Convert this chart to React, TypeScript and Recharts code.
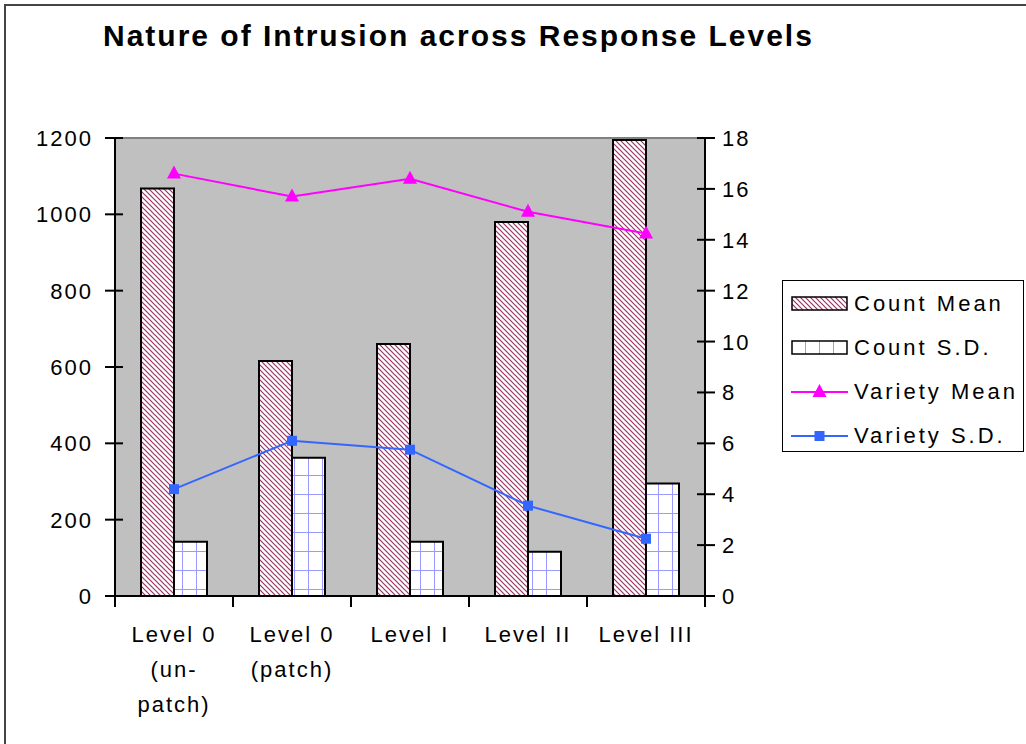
import React from "react"
import {
  ComposedChart, Bar, Line, XAxis, YAxis, CartesianGrid, ReferenceLine,
} from "recharts"

const categories = ["Level 0\n(un-\npatch)", "Level 0\n(patch)", "Level I", "Level II", "Level III"]
const countMean = [1068, 616, 660, 980, 1195]
const countSD = [142, 362, 142, 116, 295]
const varietyMean = [16.6, 15.7, 16.4, 15.1, 14.25]
const varietySD = [4.2, 6.1, 5.75, 3.55, 2.25]
const leftTicks = [0, 200, 400, 600, 800, 1000, 1200]
const rightTicks = [0, 2, 4, 6, 8, 10, 12, 14, 16, 18]
const seriesNames = [
  { key: "countMean", name: "Count Mean" },
  { key: "countSD", name: "Count S.D." },
  { key: "varietyMean", name: "Variety Mean" },
  { key: "varietySD", name: "Variety S.D." },
]

const data = categories.map((c, i) => ({
  level: c,
  countMean: countMean[i],
  countSD: countSD[i],
  varietyMean: varietyMean[i],
  varietySD: varietySD[i],
}))

const W = 1026
const H = 744
const PLOT_W = 590
const BAND = PLOT_W / categories.length
const FONT = "'Liberation Sans', Arial, sans-serif"
const MAGENTA = "#FF00FF"
const BLUE = "#3366FF"

const textStyle = { fontFamily: FONT, fontSize: 22, letterSpacing: 2, fill: "#000" }

function LeftTick(props: any) {
  const { x, y, payload } = props
  return (
    <g>
      <line x1={x - 10} x2={x + 8} y1={y} y2={y} stroke="#000" strokeWidth={2} />
      <text x={x - 22} y={y + 8} textAnchor="end" style={textStyle}>{payload.value}</text>
    </g>
  )
}

function RightTick(props: any) {
  const { x, y, payload } = props
  return (
    <g>
      <line x1={x - 8} x2={x + 10} y1={y} y2={y} stroke="#000" strokeWidth={2} />
      <text x={x + 17} y={y + 8} textAnchor="start" style={textStyle}>{payload.value}</text>
    </g>
  )
}

function XTick(props: any) {
  const { x, y, payload, index } = props
  const lines = String(payload.value).split("\n")
  return (
    <g>
      <line x1={x - BAND / 2} x2={x - BAND / 2} y1={y} y2={y + 11} stroke="#000" strokeWidth={2} />
      {index === categories.length - 1 && (
        <line x1={x + BAND / 2} x2={x + BAND / 2} y1={y} y2={y + 11} stroke="#000" strokeWidth={2} />
      )}
      <text x={x} y={y + 46} textAnchor="middle" style={textStyle}>
        {lines.map((l, i) => (
          <tspan key={i} x={x} dy={i === 0 ? 0 : 35}>{l}</tspan>
        ))}
      </text>
    </g>
  )
}

function TriangleDot(props: any) {
  const { cx, cy } = props
  if (cx == null || cy == null) return <g />
  return <path d={`M${cx},${cy - 8} L${cx + 7},${cy + 5} L${cx - 7},${cy + 5} Z`} fill={MAGENTA} />
}

function SquareDot(props: any) {
  const { cx, cy } = props
  if (cx == null || cy == null) return <g />
  return <rect x={cx - 5} y={cy - 5} width={10} height={10} fill={BLUE} />
}

function LegendIcon({ kind }: { kind: string }) {
  if (kind === "countMean")
    return <rect x={1} y={4} width={55} height={13} fill="url(#hatch)" stroke="#000" strokeWidth={1.5} />
  if (kind === "countSD")
    return <rect x={1} y={4} width={55} height={13} fill="url(#grid)" stroke="#000" strokeWidth={1.5} />
  if (kind === "varietyMean")
    return (
      <g>
        <line x1={0} x2={57} y1={11} y2={11} stroke={MAGENTA} strokeWidth={2} />
        <TriangleDot cx={28.5} cy={11} />
      </g>
    )
  return (
    <g>
      <line x1={0} x2={57} y1={11} y2={11} stroke={BLUE} strokeWidth={2} />
      <SquareDot cx={28.5} cy={11} />
    </g>
  )
}

function LegendBox() {
  return (
    <div
      style={{
        position: "absolute",
        left: 782,
        top: 280,
        border: "1.5px solid #000",
        background: "#fff",
        width: 242,
        height: 172,
        boxSizing: "border-box",
        paddingTop: 1,
        paddingLeft: 8,
      }}
    >
      {seriesNames.map((s) => (
        <div key={s.key} style={{ display: "flex", alignItems: "center", height: 44 }}>
          <svg width={58} height={22} style={{ marginRight: 5 }}>
            <LegendIcon kind={s.key} />
          </svg>
          <span style={{ fontFamily: FONT, fontSize: 22, letterSpacing: 3, color: "#000", whiteSpace: "nowrap" }}>{s.name}</span>
        </div>
      ))}
    </div>
  )
}

export default function App() {
  return (
    <div style={{ position: "absolute", left: 0, top: 0, width: W, height: H, overflow: "hidden", background: "#fff" }}>
      <svg width={0} height={0} style={{ position: "absolute" }}>
        <defs>
          <pattern id="hatch" width={5} height={5} patternUnits="userSpaceOnUse">
            <rect width={5} height={5} fill="#fff" />
            <path d="M0,0 L5,5 M-1,4 L1,6 M4,-1 L6,1" stroke="#993366" strokeWidth={1.2} />
          </pattern>
          <pattern id="grid" width={14} height={19} patternUnits="userSpaceOnUse">
            <rect width={14} height={19} fill="#fff" />
            <path d="M0,0 L14,0 M0,0 L0,19" stroke="#9999FF" strokeWidth={2} />
          </pattern>
        </defs>
      </svg>
      <div
        style={{
          position: "absolute",
          left: 4,
          top: 4,
          width: W + 20,
          height: H + 20,
          borderLeft: "2px solid #444",
          borderTop: "2px solid #444",
        }}
      />
      <div
        style={{
          position: "absolute",
          left: 103,
          top: 21,
          fontFamily: FONT,
          fontWeight: "bold",
          fontSize: 30,
          lineHeight: 1,
          letterSpacing: 2,
          color: "#000",
          whiteSpace: "nowrap",
        }}
      >
        Nature of Intrusion across Response Levels
      </div>
      <div style={{ position: "absolute", left: 0, top: 0 }}>
        <ComposedChart
          width={W}
          height={H}
          data={data}
          margin={{ top: 138, right: 261, left: 55, bottom: 28 }}
          barGap={0}
          barSize={33}
        >
          <CartesianGrid horizontal={false} vertical={false} fill="#C0C0C0" />
          <XAxis
            dataKey="level"
            interval={0}
            height={120}
            tickSize={0}
            tickMargin={0}
            tickLine={false}
            axisLine={{ stroke: "#000", strokeWidth: 2 }}
            tick={<XTick />}
          />
          <YAxis
            yAxisId="left"
            orientation="left"
            width={60}
            domain={[0, 1200]}
            ticks={leftTicks}
            interval={0}
            tickSize={0}
            tickMargin={0}
            tickLine={false}
            axisLine={{ stroke: "#000", strokeWidth: 2 }}
            tick={<LeftTick />}
          />
          <YAxis
            yAxisId="right"
            orientation="right"
            width={60}
            domain={[0, 18]}
            ticks={rightTicks}
            interval={0}
            tickSize={0}
            tickMargin={0}
            tickLine={false}
            axisLine={{ stroke: "#000", strokeWidth: 2 }}
            tick={<RightTick />}
          />
          <ReferenceLine yAxisId="left" y={1200} stroke="#808080" strokeWidth={2} />
          <Bar yAxisId="left" dataKey="countMean" name="Count Mean" fill="url(#hatch)" stroke="#000" strokeWidth={2} isAnimationActive={false} />
          <Bar yAxisId="left" dataKey="countSD" name="Count S.D." fill="url(#grid)" stroke="#000" strokeWidth={2} isAnimationActive={false} />
          <Line
            yAxisId="right"
            dataKey="varietyMean"
            name="Variety Mean"
            type="linear"
            stroke={MAGENTA}
            strokeWidth={2}
            dot={(p: any) => <TriangleDot key={p.index} {...p} />}
            activeDot={false}
            isAnimationActive={false}
          />
          <Line
            yAxisId="right"
            dataKey="varietySD"
            name="Variety S.D."
            type="linear"
            stroke={BLUE}
            strokeWidth={2}
            dot={(p: any) => <SquareDot key={p.index} {...p} />}
            activeDot={false}
            isAnimationActive={false}
          />
        </ComposedChart>
      </div>
      <LegendBox />
    </div>
  )
}
